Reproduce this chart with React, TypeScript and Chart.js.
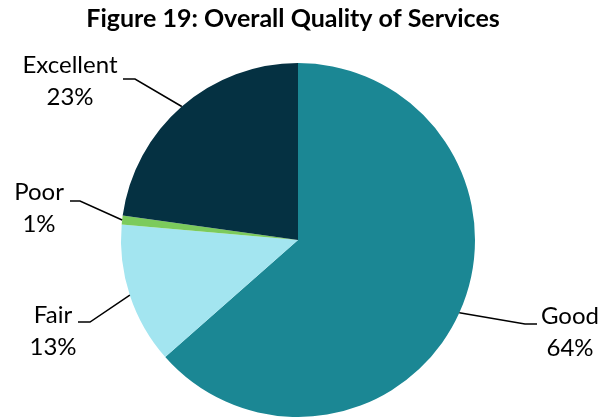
import React, { useEffect, useRef } from "react";
import { Chart, registerables } from "chart.js";

Chart.register(...registerables);

const TITLE = "Figure 19: Overall Quality of Services";
const categories = ["Good", "Fair", "Poor", "Excellent"];
const values = [63.5, 12.9, 0.8, 22.8];
const percentLabels = ["64%", "13%", "1%", "23%"];
const colors = ["#1B8794", "#A3E5F0", "#7CCB5C", "#053142"];

// label placement (annotation layout only)
const labelLayout = [
  { cx: 570, base: 324, lineY: 324, textEdge: 537, elbow: 525 },
  { cx: 53, base: 323, lineY: 322, textEdge: 78, elbow: 90 },
  { cx: 39, base: 200, lineY: 201, textEdge: 70, elbow: 80 },
  { cx: 70, base: 73, lineY: 79, textEdge: 123, elbow: 135 },
];

const FONT = "Lato, 'Open Sans', sans-serif";

const labelPlugin = {
  id: "pieLabels",
  afterDraw(chart: any) {
    const ctx = chart.ctx as CanvasRenderingContext2D;
    ctx.save();
    // title
    ctx.fillStyle = "#000";
    ctx.font = `bold 25px ${FONT}`;
    ctx.textAlign = "center";
    ctx.textBaseline = "alphabetic";
    ctx.fillText(TITLE, 293, 27);

    const meta = chart.getDatasetMeta(0);
    meta.data.forEach((arc: any, i: number) => {
      const p = arc.getProps(["x", "y", "startAngle", "endAngle", "outerRadius"], true);
      const mid = (p.startAngle + p.endAngle) / 2;
      const px = p.x + Math.cos(mid) * p.outerRadius;
      const py = p.y + Math.sin(mid) * p.outerRadius;
      const L = labelLayout[i];
      ctx.strokeStyle = "#000";
      ctx.lineWidth = 1.5;
      ctx.beginPath();
      ctx.moveTo(L.textEdge, L.lineY);
      ctx.lineTo(L.elbow, L.lineY);
      ctx.lineTo(px, py);
      ctx.stroke();

      ctx.fillStyle = "#000";
      ctx.font = `24px ${FONT}`;
      ctx.textAlign = "center";
      ctx.fillText(categories[i], L.cx, L.base);
      ctx.fillText(percentLabels[i], L.cx, L.base + 32);
    });
    ctx.restore();
  },
};

export default function App() {
  const ref = useRef<HTMLCanvasElement>(null);
  useEffect(() => {
    if (!ref.current) return;
    const chart = new Chart(ref.current, {
      type: "pie",
      data: {
        labels: categories,
        datasets: [
          {
            data: values,
            backgroundColor: colors,
            borderWidth: 0,
          },
        ],
      },
      options: {
        responsive: false,
        animation: false,
        devicePixelRatio: 1,
        layout: { padding: { top: 63, left: 121, right: 125, bottom: 0 } },
        plugins: {
          legend: { display: false },
          tooltip: { enabled: false },
          title: { display: false },
        },
      },
      plugins: [labelPlugin],
    });
    return () => chart.destroy();
  }, []);
  return (
    <div style={{ position: "fixed", left: 0, top: 0, width: 600, height: 417, background: "#fff" }}>
      <canvas ref={ref} width={600} height={417} />
    </div>
  );
}
